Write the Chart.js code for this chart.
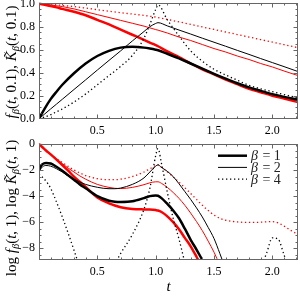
<!DOCTYPE html>
<html><head><meta charset="utf-8">
<script src="https://cdn.jsdelivr.net/npm/chart.js@4/dist/chart.umd.min.js"></script>
<style>
html,body{margin:0;padding:0;background:#fff;width:300px;height:296px;overflow:hidden;}
#c1{position:absolute;left:0;top:0;}
#c2{position:absolute;left:0;top:136px;}
</style></head><body>
<canvas id="c1" width="300" height="140"></canvas>
<canvas id="c2" width="300" height="160"></canvas>
<script>
// ---------- data: top panel f_beta(t,0.1) (red) and K_beta(t,0.1) (black) ----------
const tTop  = [0,0.05,0.1,0.15,0.2,0.3,0.4,0.5,0.6,0.7,0.8,0.9,0.95,1.0,1.02,1.1,1.2,1.3,1.4,1.5,1.6,1.7,1.8,1.9,2.0,2.1,2.22];
const topF1 = [1.0,0.99,0.98,0.968,0.955,0.93,0.90,0.86,0.82,0.775,0.73,0.685,0.662,0.64,0.63,0.585,0.535,0.48,0.43,0.385,0.34,0.30,0.26,0.23,0.20,0.175,0.145];
const topF2 = [1.0,0.997,0.99,0.982,0.975,0.955,0.93,0.905,0.88,0.855,0.83,0.805,0.79,0.775,0.77,0.745,0.71,0.68,0.645,0.61,0.58,0.545,0.515,0.48,0.45,0.415,0.375];
const topF4 = [1.0,0.998,0.995,0.99,0.985,0.975,0.962,0.948,0.935,0.922,0.91,0.898,0.891,0.884,0.88,0.863,0.842,0.82,0.798,0.776,0.754,0.732,0.71,0.688,0.666,0.644,0.618];
const topK1 = [0,0.09,0.17,0.235,0.295,0.395,0.48,0.545,0.59,0.618,0.626,0.618,0.61,0.60,0.595,0.565,0.525,0.48,0.435,0.39,0.348,0.308,0.272,0.242,0.214,0.19,0.165];
const topK2 = [0,0.042,0.085,0.127,0.169,0.254,0.338,0.423,0.507,0.59,0.676,0.758,0.80,0.828,0.835,0.807,0.771,0.736,0.70,0.665,0.63,0.594,0.559,0.523,0.488,0.453,0.41];
const topK4 = [0,0.015,0.035,0.06,0.085,0.145,0.215,0.295,0.375,0.455,0.55,0.70,0.82,0.95,0.99,0.86,0.72,0.59,0.50,0.43,0.38,0.335,0.29,0.26,0.235,0.21,0.18];

// ---------- data: bottom panel log f_beta(t,1) (red) and log K_beta(t,1) (black) ----------
const tBot  = [0,0.03,0.06,0.1,0.15,0.2,0.25,0.3,0.35,0.4,0.5,0.6,0.65,0.7,0.8,0.9,0.95,1.0,1.02,1.05,1.1,1.15,1.2,1.25,1.3,1.35,1.4,1.45,1.5,1.55,1.6,1.7,1.8,1.9,1.95,2.0,2.05,2.1,2.15,2.22];
const botF1 = [0,-0.25,-0.5,-0.8,-1.2,-1.62,-2.05,-2.5,-2.9,-3.3,-4.1,-4.55,-4.72,-4.85,-4.98,-5.02,-5.03,-5.07,-5.1,-5.22,-5.55,-6.0,-6.55,-7.2,-7.85,-8.65,-9.5,null,null,null,null,null,null,null,null,null,null,null,null,null];
const botF2 = [0,-0.25,-0.5,-0.8,-1.15,-1.5,-1.85,-2.15,-2.45,-2.7,-3.1,-3.33,-3.4,-3.42,-3.33,-3.12,-2.98,-2.9,-2.9,-3.02,-3.33,-3.72,-4.17,-4.7,-5.3,-5.95,-6.65,-7.45,-8.3,-9.3,null,null,null,null,null,null,null,null,null,null];
const botF4 = [0,-0.25,-0.5,-0.8,-1.12,-1.42,-1.72,-2.0,-2.22,-2.42,-2.66,-2.74,-2.74,-2.7,-2.5,-2.15,-1.9,-1.65,-1.6,-1.78,-2.12,-2.52,-2.93,-3.35,-3.8,-4.25,-4.7,-5.1,-5.45,-5.7,-5.85,-5.98,-6.02,-6.0,-5.97,-5.96,-6.05,-6.3,-6.58,-6.95];
const botK1 = [-1.95,-1.55,-1.45,-1.5,-1.75,-2.05,-2.4,-2.75,-3.1,-3.4,-4.0,-4.35,-4.43,-4.45,-4.4,-4.15,-4.0,-3.95,-3.97,-4.15,-4.6,-5.1,-5.7,-6.5,-7.35,-8.1,-8.9,-9.7,null,null,null,null,null,null,null,null,null,null,null,null];
const botK2 = [-2.1,-1.75,-1.65,-1.7,-1.9,-2.15,-2.45,-2.7,-2.92,-3.1,-3.32,-3.43,-3.43,-3.38,-3.1,-2.6,-2.15,-1.7,-1.6,-1.8,-2.1,-2.5,-3.05,-3.65,-4.25,-4.9,-5.6,-6.4,-7.25,-8.4,-9.6,null,null,null,null,null,null,null,null,null];
const botK4 = [-2.3,-2.55,-2.85,-3.4,-4.45,-5.6,-6.85,-8.15,-9.5,null,null,-10.4,-9.25,-8.4,-6.95,-5.0,-3.4,-0.9,-0.35,-1.5,-3.7,-5.7,-7.3,-9.1,null,null,null,null,null,null,null,null,null,-9.5,-8.4,-7.2,-7.3,-8.5,-9.7,null];

// ---------- ticks and labels ----------
const xTickValues = [0.5, 1.0, 1.5, 2.0];
const xTickLabels = ['0.5', '1.0', '1.5', '2.0'];
const yTopTickValues = [0, 0.2, 0.4, 0.6, 0.8, 1.0];
const yTopTickLabels = ['0.0', '0.2', '0.4', '0.6', '0.8', '1.0'];
const yBotTickValues = [0, -2, -4, -6, -8];
const yBotTickLabels = ['0', '\u22122', '\u22124', '\u22126', '\u22128'];
const legendLabels = [['\u03B2', ' = 1'], ['\u03B2', ' = 2'], ['\u03B2', ' = 4']];

const SERIF = "'Liberation Serif', 'Times New Roman', 'DejaVu Serif', serif";
const RED = '#ff0000', BLACK = '#000000';
const STY = { 1: {w: 2.5, dash: []}, 2: {w: 1, dash: []}, 4: {w: 1.3, dash: [1.3, 2.7]} };

function ds(t, arr, color, beta) {
  return {
    data: t.map((x, i) => ({x: x, y: arr[i]})),
    borderColor: color, borderWidth: STY[beta].w, borderDash: STY[beta].dash,
    pointRadius: 0, fill: false, cubicInterpolationMode: 'monotone', spanGaps: false,
    clip: {left: 0, right: 0, top: 2, bottom: 0}
  };
}

function drawRich(ctx, segs, cx, cy, size) {
  ctx.save();
  ctx.translate(cx, cy);
  ctx.rotate(-Math.PI / 2);
  const fontFor = s => (s === 'r' ? '' : 'italic ') + (s === 's' ? size * 0.7 : size) + 'px ' + SERIF;
  let w = 0;
  for (const [t, s] of segs) { ctx.font = fontFor(s); w += ctx.measureText(t).width; }
  let xx = -w / 2;
  const base = size * 0.33;
  ctx.textBaseline = 'alphabetic';
  ctx.fillStyle = '#000';
  for (const [t, s] of segs) {
    ctx.font = fontFor(s);
    ctx.fillText(t, xx, s === 's' ? base + size * 0.22 : base);
    xx += ctx.measureText(t).width;
  }
  ctx.restore();
}

const framePlugin = {
  id: 'frame',
  afterDatasetsDraw(chart, args, o) {
    const {ctx, chartArea: a} = chart;
    const xs = chart.scales.x, ys = chart.scales.y;
    const L = Math.floor(a.left) + 0.5, R = Math.ceil(a.right) - 0.5;
    const T = Math.floor(a.top) + 0.5, B = Math.ceil(a.bottom) - 0.5;
    ctx.save();
    ctx.strokeStyle = '#666';
    ctx.lineWidth = 1;
    ctx.beginPath();
    const xt = (v, len) => {
      const p = Math.round(xs.getPixelForValue(v)) + 0.5;
      ctx.moveTo(p, B); ctx.lineTo(p, B - len);
      ctx.moveTo(p, T); ctx.lineTo(p, T + len);
    };
    const yt = (v, len) => {
      const p = Math.round(ys.getPixelForValue(v)) + 0.5;
      ctx.moveTo(L, p); ctx.lineTo(L + len, p);
      ctx.moveTo(R, p); ctx.lineTo(R - len, p);
    };
    for (let k = 1; k * o.xMinor <= xs.max + 1e-9; k++) {
      const v = k * o.xMinor;
      xt(v, o.xMajor.some(m => Math.abs(m - v) < 1e-6) ? 4 : 2);
    }
    const ylo = ys.min, yhi = ys.max;
    for (let k = Math.ceil(ylo / o.yMinor); k * o.yMinor <= yhi + 1e-9; k++) {
      const v = k * o.yMinor;
      if (Math.abs(v - ylo) < 1e-6 || Math.abs(v - yhi) < 1e-6) continue;
      yt(v, o.yMajor.some(m => Math.abs(m - v) < 1e-6) ? 4 : 2);
    }
    ctx.stroke();
    ctx.strokeRect(L, T, R - L, B - T);
    if (o.title) drawRich(ctx, o.title.segs, o.title.cx, o.title.cy, o.title.size);
    if (o.legend) {
      const lg = o.legend;
      lg.items.forEach((it, i) => {
        const d = chart.data.datasets[it.ds];
        const y = lg.y0 + i * lg.dy;
        ctx.save();
        ctx.strokeStyle = d.borderColor;
        ctx.lineWidth = d.borderWidth;
        ctx.setLineDash(d.borderDash || []);
        ctx.beginPath();
        ctx.moveTo(lg.x0, y); ctx.lineTo(lg.x1, y);
        ctx.stroke();
        ctx.restore();
        ctx.fillStyle = '#222';
        ctx.textBaseline = 'middle';
        let xx = lg.tx;
        ctx.font = 'italic ' + lg.size + 'px ' + SERIF;
        ctx.fillText(it.label[0], xx, y + 1);
        xx += ctx.measureText(it.label[0]).width;
        ctx.font = lg.size + 'px ' + SERIF;
        ctx.fillText(it.label[1], xx + 1, y + 1);
      });
    }
    ctx.restore();
  }
};

function xScale(height, withTitle) {
  return {
    type: 'linear', min: 0, max: 2.22,
    grid: {display: false, drawTicks: false}, border: {display: false},
    afterBuildTicks: s => { s.ticks = xTickValues.map(v => ({value: v})); },
    afterFit: s => { s.height = height; s.paddingLeft = 0; s.paddingRight = 0; },
    ticks: {autoSkip: false, maxRotation: 0, minRotation: 0, padding: 5, color: '#000',
            font: {family: SERIF, size: 12}, callback: (v, i) => xTickLabels[i]},
    title: withTitle ? {display: true, text: 't', color: '#000', padding: {top: 0, bottom: 0},
            font: {family: SERIF, size: 15, style: 'italic'}} : {display: false}
  };
}
function yScale(min, max, vals, labels) {
  return {
    type: 'linear', min: min, max: max,
    grid: {display: false, drawTicks: false}, border: {display: false},
    afterBuildTicks: s => { s.ticks = vals.map(v => ({value: v})); },
    afterFit: s => { s.width = 39; s.paddingTop = 0; s.paddingBottom = 0; },
    ticks: {autoSkip: false, padding: 4, color: '#000', font: {family: SERIF, size: 12},
            callback: (v, i) => labels[i]}
  };
}

new Chart(document.getElementById('c1'), {
  type: 'line',
  data: {datasets: [
    ds(tTop, topK1, BLACK, 1), ds(tTop, topK2, BLACK, 2), ds(tTop, topK4, BLACK, 4),
    ds(tTop, topF1, RED, 1), ds(tTop, topF2, RED, 2), ds(tTop, topF4, RED, 4)
  ]},
  options: {
    responsive: false, animation: false, events: [],
    layout: {padding: {left: 0, right: 2, top: 3.7, bottom: 0}},
    scales: {x: xScale(21.3, false), y: yScale(0, 1, yTopTickValues, yTopTickLabels)},
    plugins: {
      legend: {display: false}, tooltip: {enabled: false},
      frame: {xMajor: xTickValues, xMinor: 0.1, yMajor: yTopTickValues, yMinor: 0.05,
        title: {cx: 11, cy: 62, size: 15, segs: [['f','i'],['\u03B2','s'],['(','r'],['t','i'],[', 0.1), ','r'],['K\u0303','i'],['\u03B2','s'],['(','r'],['t','i'],[', 0.1)','r']]}}
    }
  },
  plugins: [framePlugin]
});

new Chart(document.getElementById('c2'), {
  type: 'line',
  data: {datasets: [
    ds(tBot, botK1, BLACK, 1), ds(tBot, botK2, BLACK, 2), ds(tBot, botK4, BLACK, 4),
    ds(tBot, botF1, RED, 1), ds(tBot, botF2, RED, 2), ds(tBot, botF4, RED, 4)
  ]},
  options: {
    responsive: false, animation: false, events: [],
    layout: {padding: {left: 0, right: 2, top: 8, bottom: 0}},
    scales: {x: xScale(36, true), y: yScale(-8.9, 0, yBotTickValues, yBotTickLabels)},
    plugins: {
      legend: {display: false}, tooltip: {enabled: false},
      frame: {xMajor: xTickValues, xMinor: 0.1, yMajor: yBotTickValues, yMinor: 0.5,
        title: {cx: 11, cy: 72, size: 15, segs: [['log ','r'],['f','i'],['\u03B2','s'],['(','r'],['t','i'],[', 1), log ','r'],['K\u0303','i'],['\u03B2','s'],['(','r'],['t','i'],[', 1)','r']]},
        legend: {x0: 218, x1: 247, tx: 251, y0: 19.7, dy: 11.7, size: 14,
          items: legendLabels.map((l, i) => ({ds: i, label: l}))}}
    }
  },
  plugins: [framePlugin]
});
</script></body></html>
